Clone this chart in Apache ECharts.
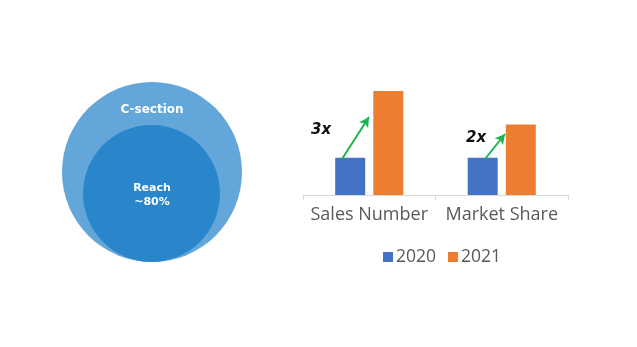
<!DOCTYPE html>
<html><head><meta charset="utf-8">
<script src="https://cdn.jsdelivr.net/npm/echarts@6/dist/echarts.min.js"></script>
<style>html,body{margin:0;padding:0;background:#fff}#c{width:637px;height:347px}</style>
</head><body><div id="c"></div>
<script>
const categories = ['Sales Number', 'Market Share'];
const series2020 = [1, 1];
const series2021 = [2.8, 1.9];
const seriesNames = ['2020', '2021'];
const growthLabels = ['3x', '2x'];
const circleLabels = ['C-section', 'Reach\n~80%'];

const chart = echarts.init(document.getElementById('c'));
chart.setOption({
  animation: false,
  backgroundColor: '#fff',
  grid: { left: 303, top: 91, width: 265, height: 104 },
  legend: {
    data: seriesNames, left: 378, top: 243, itemWidth: 10, itemHeight: 10, itemGap: 12,
    icon: 'rect',
    textStyle: { fontFamily: 'Open Sans', fontSize: 17.5, color: '#595959', padding: [0, 0, 0, -2] }
  },
  xAxis: {
    type: 'category', data: categories,
    axisLine: { lineStyle: { color: '#d9d9d9', width: 1 } },
    axisTick: { show: true, length: 5, interval: 0, lineStyle: { color: '#d9d9d9' } },
    axisLabel: { interval: 0, fontFamily: 'Open Sans', fontSize: 18, color: '#595959', margin: 11 }
  },
  yAxis: { type: 'value', min: 0, max: 2.8, show: false, splitLine: { show: false } },
  series: [
    { name: seriesNames[0], type: 'bar', data: series2020, barWidth: 30, barGap: '27%',
      itemStyle: { color: '#4472c4' },
      markLine: { silent: true, symbol: ['none', 'arrow'], symbolSize: [8, 10],
        lineStyle: { color: '#1db350', width: 2, type: 'solid' }, label: { show: false },
        data: [
          [{ x: 342, y: 159 }, { x: 369, y: 117 }],
          [{ x: 485, y: 159 }, { x: 505, y: 134 }]
        ] } },
    { name: seriesNames[1], type: 'bar', data: series2021, barWidth: 30,
      itemStyle: { color: '#ed7d31' } }
  ],
  graphic: [
    { type: 'circle', shape: { cx: 152, cy: 172, r: 90 }, style: { fill: '#63a6d9' }, silent: true },
    { type: 'circle', shape: { cx: 151.5, cy: 193.5, r: 68.5 }, style: { fill: '#2a86cb' }, silent: true },
    { type: 'text', x: 152, y: 110, style: { text: circleLabels[0], fill: '#fff', font: 'bold 12px "DejaVu Sans"', align: 'center', verticalAlign: 'middle' } },
    { type: 'text', x: 152, y: 195, style: { text: circleLabels[1], fill: '#fff', font: 'bold 11px "DejaVu Sans"', align: 'center', verticalAlign: 'middle', lineHeight: 14 } },
    { type: 'text', x: 321, y: 130, style: { text: growthLabels[0], fill: '#111', font: 'italic bold 15px "DejaVu Sans"', align: 'center', verticalAlign: 'middle' } },
    { type: 'text', x: 476, y: 138, style: { text: growthLabels[1], fill: '#111', font: 'italic bold 15px "DejaVu Sans"', align: 'center', verticalAlign: 'middle' } }
  ]
});
</script></body></html>
